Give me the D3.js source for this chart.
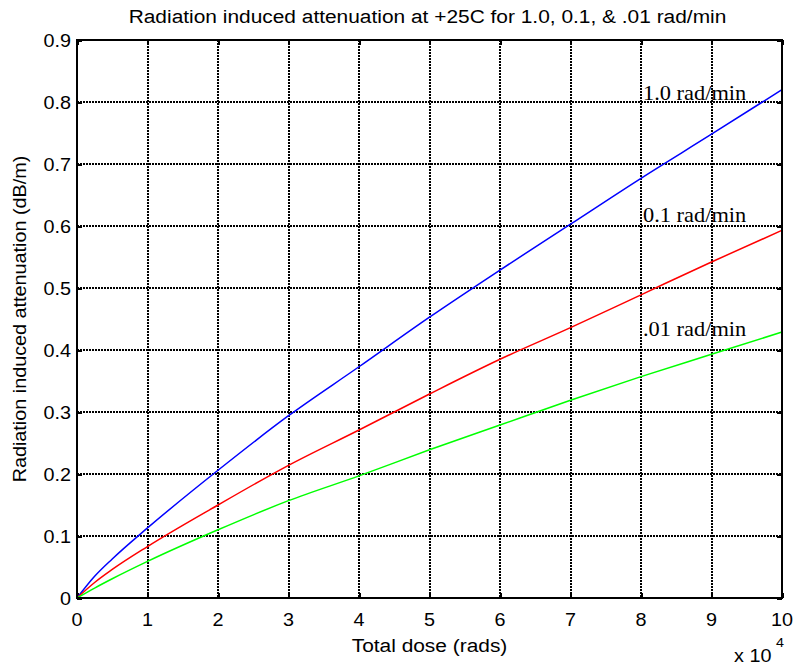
<!DOCTYPE html>
<html><head><meta charset="utf-8">
<script src="https://cdn.jsdelivr.net/npm/d3@7"></script>
<style>body{margin:0;background:#fff}svg{display:block}</style>
</head><body>
<script>
const dose = [0, 0.25, 0.5, 1, 2, 3, 4, 5, 6, 7, 8, 9, 10]; // x 10^4 rads
const rate1 = [0, 0.035, 0.063, 0.113, 0.206, 0.294, 0.373, 0.453, 0.529, 0.603, 0.677, 0.748, 0.820];
const rate01 = [0, 0.025, 0.046, 0.083, 0.150, 0.214, 0.271, 0.329, 0.385, 0.436, 0.489, 0.542, 0.593];
const rate001 = [0, 0.016, 0.031, 0.059, 0.110, 0.157, 0.197, 0.239, 0.279, 0.319, 0.357, 0.393, 0.429];
const seriesNames = ["1.0 rad/min", "0.1 rad/min", ".01 rad/min"];
const seriesColors = ["#0000ff", "#ff0000", "#00ff00"];
const xTicks = [0,1,2,3,4,5,6,7,8,9,10];
const yTicks = [0,0.1,0.2,0.3,0.4,0.5,0.6,0.7,0.8,0.9];
const title = "Radiation induced attenuation at +25C for 1.0, 0.1, & .01 rad/min";
const xLabel = "Total dose (rads)";
const yLabel = "Radiation induced attenuation (dB/m)";

const W = 794, H = 668;
const L = 77, R = 782, T = 40, B = 598;
const SX = 1.1;
const svg = d3.select("body").append("svg").attr("width", W).attr("height", H);
const x = d3.scaleLinear().domain([0,10]).range([L,R]);
const y = d3.scaleLinear().domain([0,0.9]).range([B,T]);

function txt(g, s, px, py, opt) {
  return g.append("text")
    .attr("transform", `translate(${px},${py}) ${opt.rot ? "rotate(-90)" : ""} scale(${opt.sx||SX},1)`)
    .attr("font-family", opt.family || "'Liberation Sans', Arial, sans-serif")
    .attr("font-size", opt.size)
    .attr("text-anchor", opt.anchor || "start")
    .attr("fill", "#000")
    .text(s);
}

// grid
const grid = svg.append("g").attr("stroke", "#000").attr("stroke-width", 2)
  .attr("stroke-dasharray", "2,1").attr("shape-rendering", "crispEdges");
grid.selectAll("line.vx").data(xTicks.slice(1,-1)).join("line")
  .attr("x1", d => Math.round(x(d))).attr("x2", d => Math.round(x(d))).attr("y1", T).attr("y2", B);
grid.selectAll("line.hy").data(yTicks.slice(1)).join("line")
  .attr("x1", L).attr("x2", R).attr("y1", d => Math.round(y(d))).attr("y2", d => Math.round(y(d)));

// axes with inward ticks
const ax = svg.append("g").attr("shape-rendering", "crispEdges");
ax.append("g").attr("transform", `translate(0,${B})`)
  .call(d3.axisBottom(x).tickValues(xTicks).tickSize(-5).tickFormat(""));
ax.append("g").attr("transform", `translate(0,${T})`)
  .call(d3.axisTop(x).tickValues(xTicks).tickSize(-5).tickFormat(""));
ax.append("g").attr("transform", `translate(${L},0)`)
  .call(d3.axisLeft(y).tickValues(yTicks).tickSize(-5).tickFormat(""));
ax.append("g").attr("transform", `translate(${R},0)`)
  .call(d3.axisRight(y).tickValues(yTicks).tickSize(-5).tickFormat(""));
ax.selectAll(".domain").remove();
ax.selectAll(".tick line").attr("stroke", "#000").attr("stroke-width", 2);

// lines
const seriesData = [rate1, rate01, rate001];
const line = d3.line().x((d,i) => x(dose[i])).y(d => y(d)).curve(d3.curveMonotoneX);
svg.append("g").selectAll("path").data(seriesData).join("path")
  .attr("d", d => line(d)).attr("fill", "none")
  .attr("stroke", (d,i) => seriesColors[i]).attr("stroke-width", 1.5);

// box
svg.append("rect").attr("x", L).attr("y", T).attr("width", R-L).attr("height", B-T)
  .attr("fill", "none").attr("stroke", "#000").attr("stroke-width", 2)
  .attr("shape-rendering", "crispEdges");

// tick labels
const tl = svg.append("g");
xTicks.forEach(d => txt(tl, String(d), x(d), 626, {size: 18, anchor: "middle"}));
yTicks.forEach(d => txt(tl, d === 0 ? "0" : d3.format(".1f")(d), 71, y(d) + 6.5, {size: 18, anchor: "end"}));

// exponent
txt(tl, "x 10", 734, 662, {size: 18});
txt(tl, "4", 776, 647, {size: 13});

// title & labels
txt(svg, title, (L+R)/2 - 2, 23, {size: 19, anchor: "middle"});
txt(svg, xLabel, (L+R)/2, 652, {size: 19, anchor: "middle"});
txt(svg, yLabel, 26, (T+B)/2, {size: 18, anchor: "middle", rot: true});

// series labels
const labY = [100, 222, 336];
seriesNames.forEach((s,i) => txt(svg, s, 643, labY[i], {size: 20, family: "'Liberation Serif', 'Times New Roman', serif", sx: 1.12}));
</script>
</body></html>
